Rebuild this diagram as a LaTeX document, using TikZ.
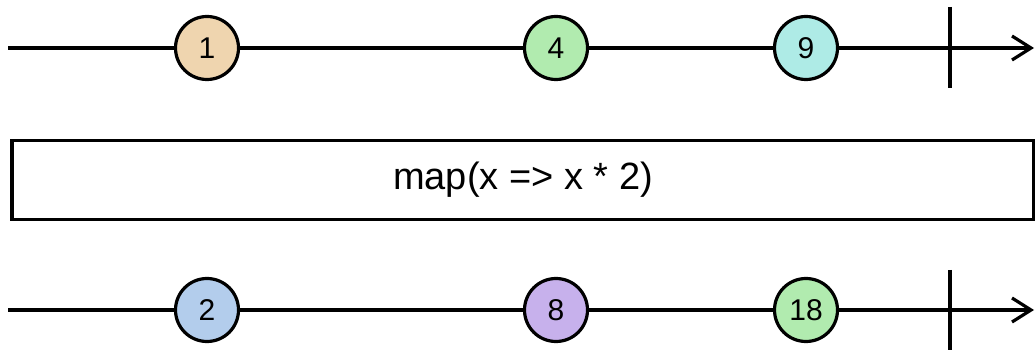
\documentclass[tikz,border=0pt]{standalone}
\usepackage{fontspec}
\setmainfont{Liberation Sans}
\usetikzlibrary{arrows.meta, positioning, calc}
\definecolor{mbtan}{HTML}{EFD5AF}
\definecolor{mbgreen}{HTML}{B1EBAF}
\definecolor{mbcyan}{HTML}{AEEBE6}
\definecolor{mbblue}{HTML}{B3CDEC}
\definecolor{mbpurple}{HTML}{C7B1EC}

\begin{document}
\begin{tikzpicture}[x=1pt, y=-1pt,
  marble/.style={circle, draw=black, line width=3.2pt, minimum size=63pt,
    inner sep=0pt, font=\fontsize{30}{35}\selectfont},
  >={Straight Barb[length=19pt, width=24pt]},
  stream/.style={draw=black, line width=3.2pt},
  arr/.style={stream, ->},
  opbox/.style={rectangle, draw=black, line width=3.2pt, minimum width=1022pt,
    minimum height=79pt, inner sep=0pt, font=\fontsize{38}{45}\selectfont},
]

% Background
\useasboundingbox[fill=white] (0,0) rectangle (1035,352);

% Input stream
\coordinate (in start) at (8,48);
\coordinate (in end) at (1034,48);
\coordinate (in top) at (950,7);
\coordinate (in bot) at (950,88);
\node[marble, fill=mbtan] (in1) at (207,48) {1};
\node[marble, fill=mbgreen] (in4) at (556,48) {4};
\node[marble, fill=mbcyan] (in9) at (806,48) {9};
\draw[arr] (in start) -- (in1) -- (in4) -- (in9) -- (in end);
\draw[stream] (in top) -- (in bot);

% Operator
\node[opbox] (op) at (523,180) {map(x => x * 2)};

% Output stream
\coordinate (out start) at (8,310);
\coordinate (out end) at (1034,310);
\coordinate (out top) at (950,270);
\coordinate (out bot) at (950,350);
\node[marble, fill=mbblue] (out2) at (207,310) {2};
\node[marble, fill=mbpurple] (out8) at (556,310) {8};
\node[marble, fill=mbgreen] (out18) at (806,310) {18};
\draw[arr] (out start) -- (out2) -- (out8) -- (out18) -- (out end);
\draw[stream] (out top) -- (out bot);
\end{tikzpicture}
\end{document}
